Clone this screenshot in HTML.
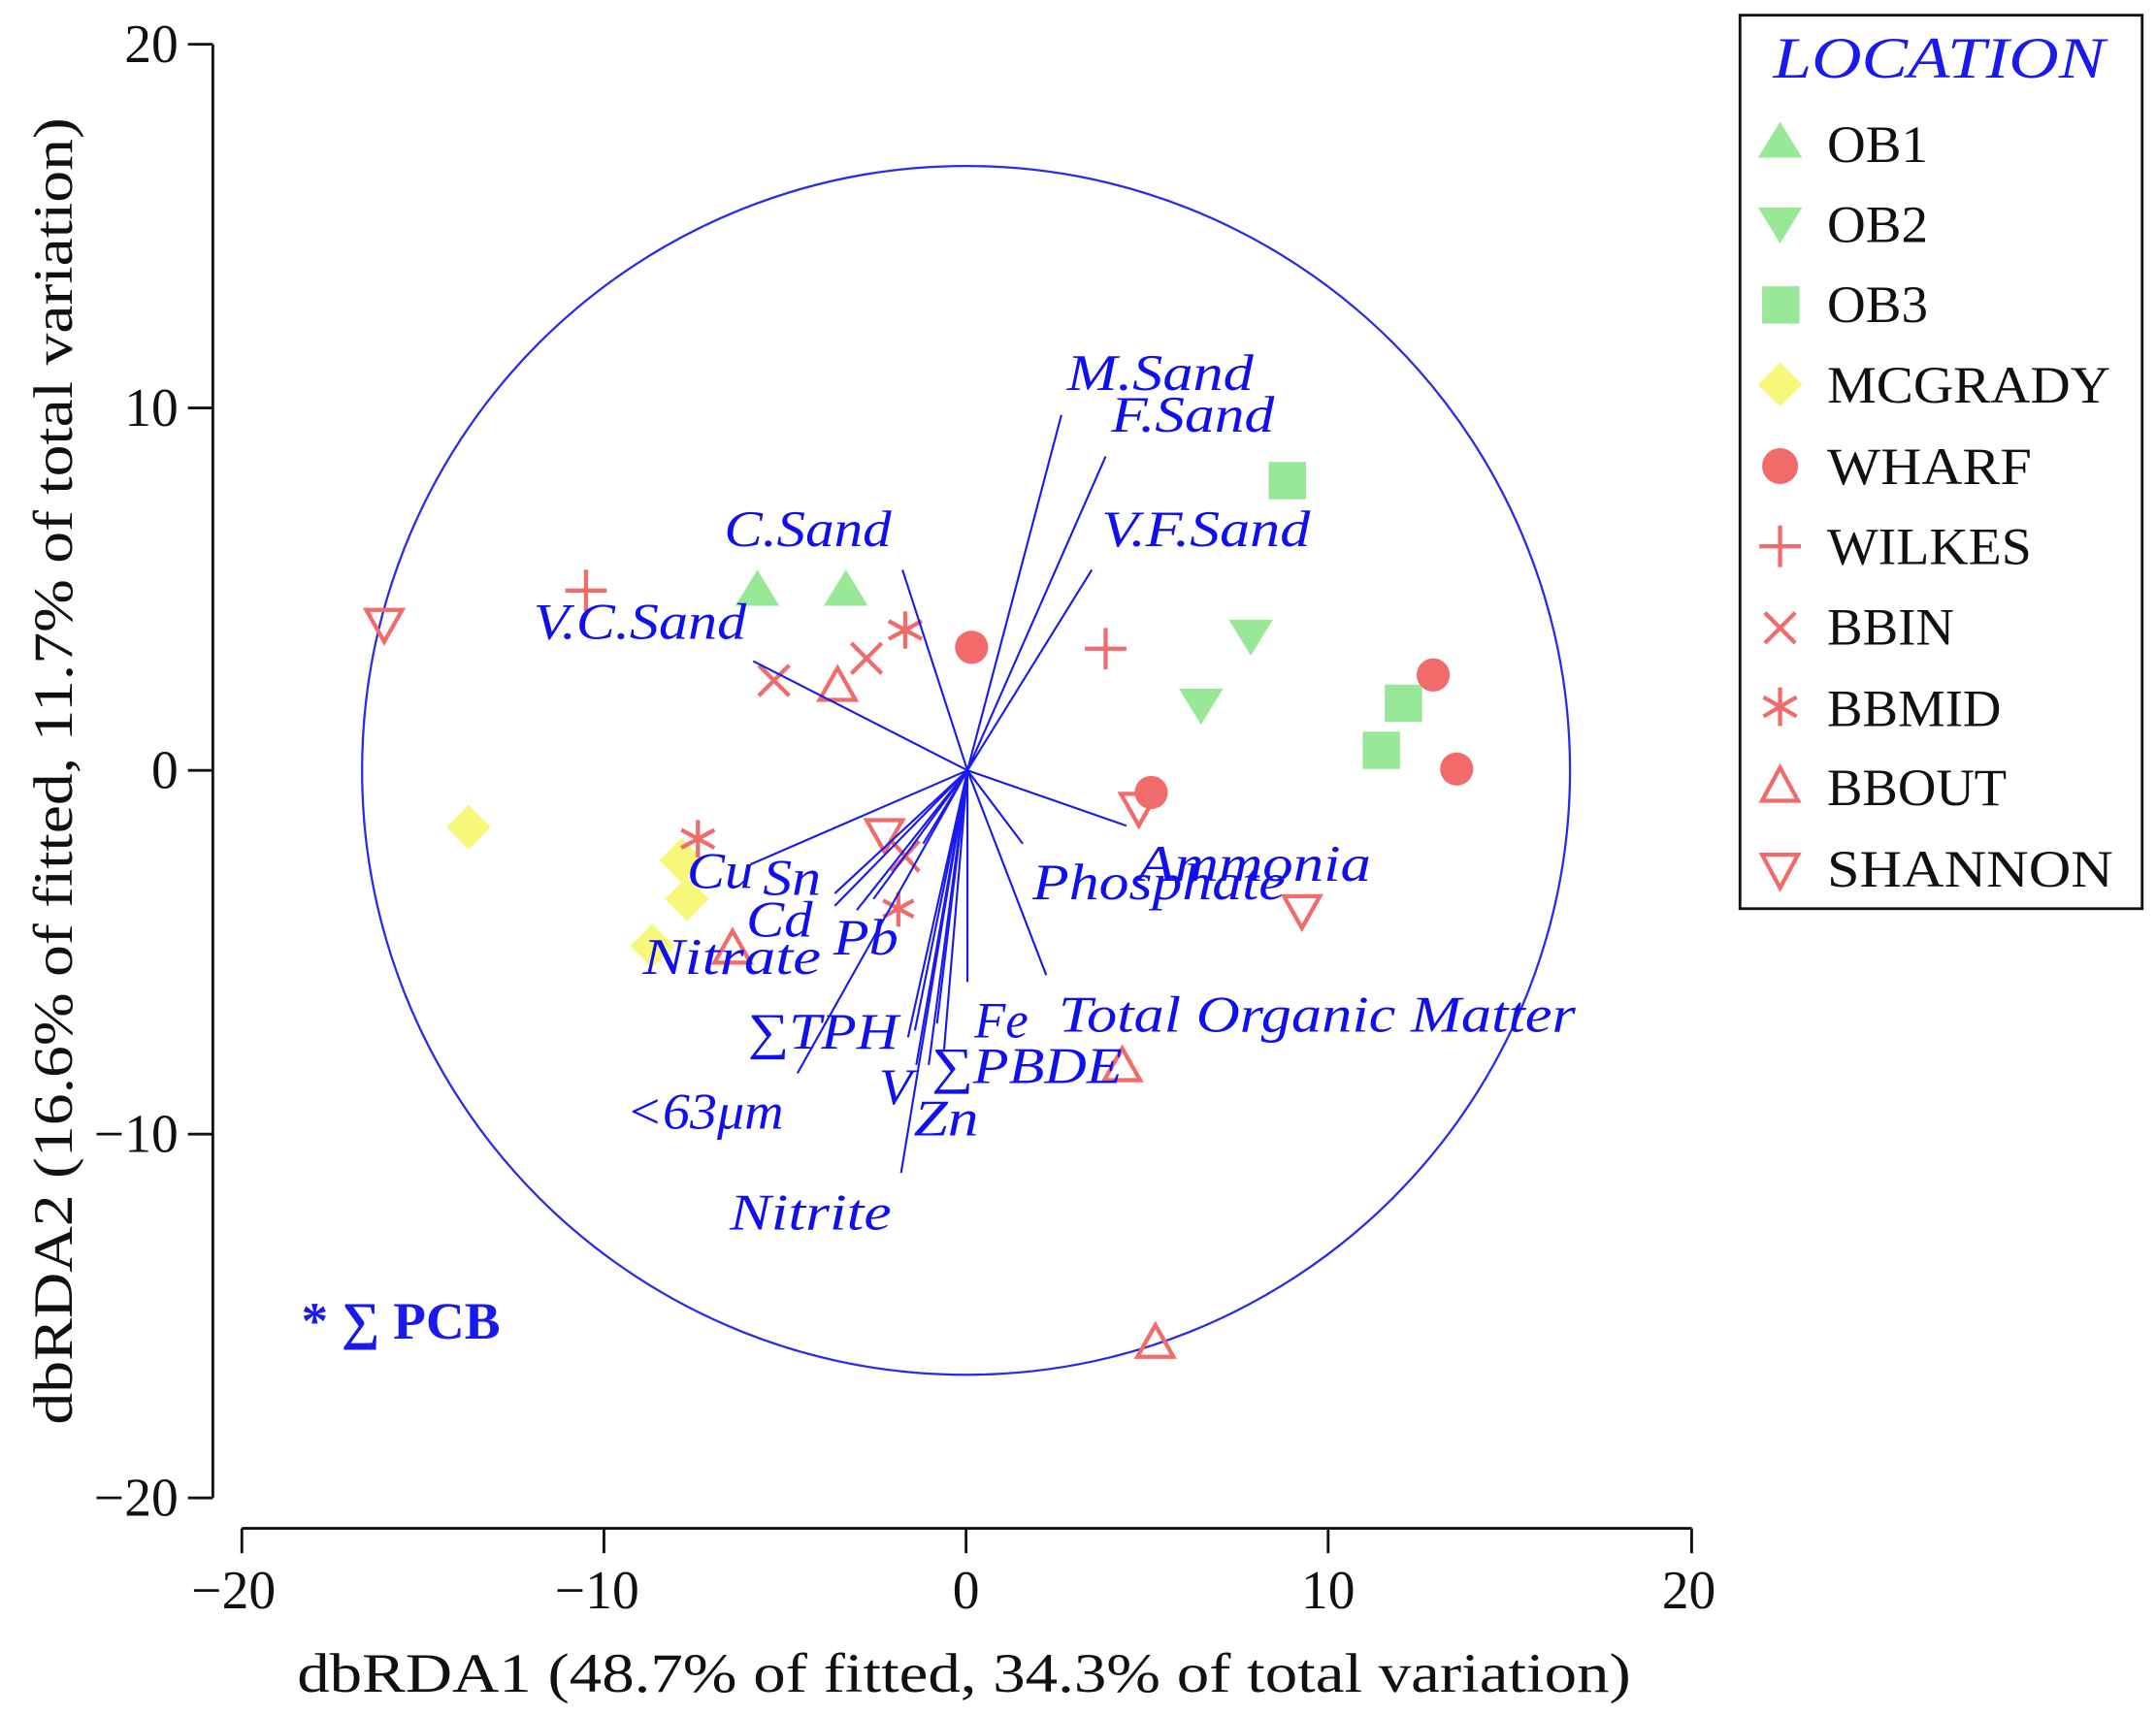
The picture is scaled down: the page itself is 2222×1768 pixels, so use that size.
<!DOCTYPE html>
<html><head><meta charset="utf-8"><style>
html,body{margin:0;padding:0;background:#fff;}
svg{display:block;}
.ax{font-family:"Liberation Serif",serif;font-size:39px;fill:#111;}
.lab{font-family:"Liberation Serif",serif;font-size:40px;fill:#111;}
.v{font-family:"Liberation Serif",serif;font-style:italic;font-size:37px;fill:#1010ee;}
.lg{font-family:"Liberation Serif",serif;font-size:38px;fill:#111;}
</style></head><body>
<svg width="2222" height="1768" viewBox="0 0 1560 1240" preserveAspectRatio="none" xmlns="http://www.w3.org/2000/svg">
<rect width="1560" height="1240" fill="#fff"/>
<g stroke="#111" stroke-width="2" fill="none">
<line x1="154" y1="32" x2="154" y2="1083"/>
<line x1="136" y1="32" x2="154" y2="32"/><line x1="136" y1="295" x2="154" y2="295"/>
<line x1="136" y1="557" x2="154" y2="557"/><line x1="136" y1="820" x2="154" y2="820"/>
<line x1="136" y1="1083" x2="154" y2="1083"/>
<line x1="175" y1="1105" x2="1224" y2="1105"/>
<line x1="175" y1="1105" x2="175" y2="1123"/><line x1="437" y1="1105" x2="437" y2="1123"/>
<line x1="699" y1="1105" x2="699" y2="1123"/><line x1="961" y1="1105" x2="961" y2="1123"/>
<line x1="1224" y1="1105" x2="1224" y2="1123"/>
</g>
<g class="ax" text-anchor="end">
<text x="129" y="45">20</text><text x="129" y="308">10</text><text x="129" y="570">0</text>
<text x="129" y="833">−10</text><text x="129" y="1096">−20</text>
</g>
<g class="ax" text-anchor="middle">
<text x="169" y="1163">−20</text><text x="432" y="1163">−10</text><text x="699" y="1163">0</text>
<text x="961" y="1163">10</text><text x="1222" y="1163">20</text>
</g>
<text class="lab" x="215" y="1223" textLength="965" lengthAdjust="spacingAndGlyphs">dbRDA1 (48.7% of fitted, 34.3% of total variation)</text>
<text class="lab" transform="translate(52,557) rotate(-90)" x="-473" y="0" textLength="945" lengthAdjust="spacingAndGlyphs">dbRDA2 (16.6% of fitted, 11.7% of total variation)</text>

<circle cx="699" cy="557" r="437" fill="none" stroke="#2a2aee" stroke-width="1.6"/>

<g fill="#98E898">
<polygon points="548,412 532,438 564,438"/><polygon points="612,412 596,438 628,438"/>
<polygon points="853,498 885,498 869,524"/><polygon points="889,448 921,448 905,474"/>
<rect x="918" y="334" width="27" height="27"/><rect x="1002" y="495" width="27" height="27"/><rect x="986" y="529" width="27" height="27"/>
</g>
<g fill="#F7F77A">
<polygon points="339,582 355,598 339,614 323,598"/><polygon points="497,634 513,650 497,666 481,650"/>
<polygon points="472,668 488,684 472,700 456,684"/><polygon points="493,606 509,622 493,638 477,622"/>
</g>
<g fill="#F26B6B">
<circle cx="703" cy="468" r="12"/><circle cx="833" cy="573" r="12"/><circle cx="1037" cy="488" r="12"/><circle cx="1054" cy="556" r="12"/>
</g>
<g stroke="#F26B6B" stroke-width="3" fill="none">
<path d="M424,412v30M409,427h30M800,454v30M785,469h30"/>
<path d="M549,481l22,22M571,481l-22,22M616,465l22,22M638,465l-22,22M645,608l20,22M665,608l-20,22"/>
<path d="M655,442v27M643,449l24,13M667,449l-24,13M505,593v27M493,600l24,13M517,600l-24,13M650,645v25M639,651l22,12M661,651l-22,12"/>
<polygon points="606,483 593,506 619,506"/><polygon points="530,673 517,696 543,696"/>
<polygon points="812,758 799,781 825,781"/><polygon points="836,958 823,981 849,981"/>
<polygon points="265,441 291,441 278,464"/><polygon points="627,593 653,593 640,616"/>
<polygon points="811,574 837,574 824,597"/><polygon points="929,648 955,648 942,671"/>
</g>

<g stroke="#1a1aee" stroke-width="1.5">
<line x1="700" y1="557" x2="768" y2="300"/><line x1="700" y1="557" x2="800" y2="330"/>
<line x1="700" y1="557" x2="790" y2="412"/><line x1="700" y1="557" x2="653" y2="412"/>
<line x1="700" y1="557" x2="545" y2="478"/><line x1="700" y1="557" x2="740" y2="610"/>
<line x1="700" y1="557" x2="815" y2="597"/><line x1="700" y1="557" x2="757" y2="705"/>
<line x1="700" y1="557" x2="700" y2="710"/><line x1="700" y1="557" x2="683" y2="760"/>
<line x1="700" y1="557" x2="678" y2="740"/><line x1="700" y1="557" x2="672" y2="770"/>
<line x1="700" y1="557" x2="663" y2="770"/><line x1="700" y1="557" x2="652" y2="848"/>
<line x1="700" y1="557" x2="657" y2="750"/><line x1="700" y1="557" x2="662" y2="745"/>
<line x1="700" y1="557" x2="577" y2="776"/><line x1="700" y1="557" x2="632" y2="650"/>
<line x1="700" y1="557" x2="604" y2="655"/><line x1="700" y1="557" x2="620" y2="658"/>
<line x1="700" y1="557" x2="604" y2="646"/><line x1="700" y1="557" x2="543" y2="625"/>
<line x1="700" y1="557" x2="668" y2="610"/><line x1="700" y1="557" x2="690" y2="640"/>
</g>
<g class="v" lengthAdjust="spacingAndGlyphs">
<text x="772" y="282" textLength="135" lengthAdjust="spacingAndGlyphs">M.Sand</text>
<text x="804" y="312" textLength="118" lengthAdjust="spacingAndGlyphs">F.Sand</text>
<text x="797" y="395" textLength="151" lengthAdjust="spacingAndGlyphs">V.F.Sand</text>
<text x="524" y="395" textLength="121" lengthAdjust="spacingAndGlyphs">C.Sand</text>
<text x="386" y="462" textLength="154" lengthAdjust="spacingAndGlyphs">V.C.Sand</text>
<text x="823" y="637" textLength="169" lengthAdjust="spacingAndGlyphs">Ammonia</text>
<text x="747" y="650" textLength="183" lengthAdjust="spacingAndGlyphs">Phosphate</text>
<text x="766" y="746" textLength="374" lengthAdjust="spacingAndGlyphs">Total Organic Matter</text>
<text x="705" y="750" textLength="39" lengthAdjust="spacingAndGlyphs">Fe</text>
<text x="674" y="783" textLength="138" lengthAdjust="spacingAndGlyphs">∑PBDE</text>
<text x="636" y="798" textLength="24" lengthAdjust="spacingAndGlyphs">V</text>
<text x="661" y="821" textLength="47" lengthAdjust="spacingAndGlyphs">Zn</text>
<text x="541" y="758" textLength="109" lengthAdjust="spacingAndGlyphs">∑TPH</text>
<text x="453" y="816" textLength="114" lengthAdjust="spacingAndGlyphs">&lt;63μm</text>
<text x="528" y="889" textLength="117" lengthAdjust="spacingAndGlyphs">Nitrite</text>
<text x="497" y="642" textLength="48" lengthAdjust="spacingAndGlyphs">Cu</text>
<text x="552" y="647" textLength="42" lengthAdjust="spacingAndGlyphs">Sn</text>
<text x="540" y="677" textLength="48" lengthAdjust="spacingAndGlyphs">Cd</text>
<text x="603" y="690" textLength="47" lengthAdjust="spacingAndGlyphs">Pb</text>
<text x="465" y="704" textLength="129" lengthAdjust="spacingAndGlyphs">Nitrate</text>
</g>
<text x="218" y="968" font-family="Liberation Serif,serif" font-weight="bold" font-size="38" fill="#1a1aee" textLength="144" lengthAdjust="spacingAndGlyphs">* ∑ PCB</text>

<rect x="1259" y="11" width="291" height="646" fill="#fff" stroke="#111" stroke-width="2"/>
<text x="1283" y="56" font-family="Liberation Serif,serif" font-style="italic" font-size="42" fill="#1a1aee" textLength="240" lengthAdjust="spacingAndGlyphs">LOCATION</text>
<g class="lg">
<text x="1322" y="117" textLength="73" lengthAdjust="spacingAndGlyphs">OB1</text>
<text x="1322" y="175" textLength="73" lengthAdjust="spacingAndGlyphs">OB2</text>
<text x="1322" y="233" textLength="73" lengthAdjust="spacingAndGlyphs">OB3</text>
<text x="1322" y="291" textLength="205" lengthAdjust="spacingAndGlyphs">MCGRADY</text>
<text x="1322" y="350" textLength="148" lengthAdjust="spacingAndGlyphs">WHARF</text>
<text x="1322" y="408" textLength="148" lengthAdjust="spacingAndGlyphs">WILKES</text>
<text x="1322" y="466" textLength="92" lengthAdjust="spacingAndGlyphs">BBIN</text>
<text x="1322" y="525" textLength="126" lengthAdjust="spacingAndGlyphs">BBMID</text>
<text x="1322" y="582" textLength="130" lengthAdjust="spacingAndGlyphs">BBOUT</text>
<text x="1322" y="641" textLength="207" lengthAdjust="spacingAndGlyphs">SHANNON</text>
</g>
<polygon points="1288,88 1272,114 1304,114" fill="#98E898"/>
<polygon points="1272,150 1304,150 1288,176" fill="#98E898"/>
<rect x="1275" y="207" width="27" height="27" fill="#98E898"/>
<polygon points="1288,262 1304,278 1288,294 1272,278" fill="#F7F77A"/>
<circle cx="1288" cy="337" r="13" fill="#F26B6B"/>
<g stroke="#F26B6B" stroke-width="3" fill="none">
<path d="M1288,380v30M1273,395h30"/>
<path d="M1277,443l22,22M1299,443l-22,22"/>
<path d="M1288,497v28M1276,504l24,14M1300,504l-24,14"/>
<polygon points="1288,555 1275,579 1301,579"/>
<polygon points="1275,618 1301,618 1288,642"/>
</g>
</svg>
</body></html>
